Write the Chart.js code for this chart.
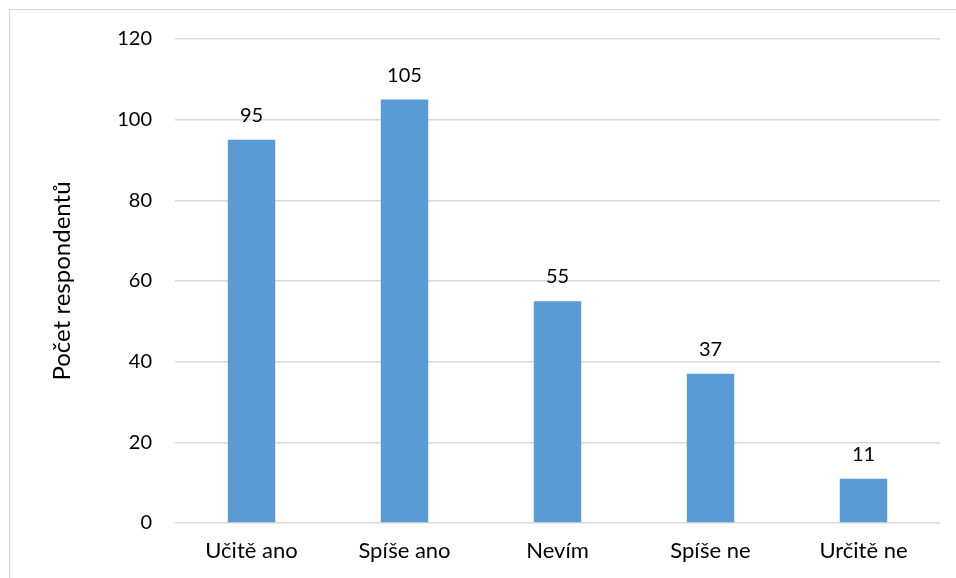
<!DOCTYPE html>
<html>
<head>
<meta charset="utf-8">
<script src="https://cdn.jsdelivr.net/npm/chart.js@4"></script>
<style>
  html, body { margin: 0; padding: 0; background: #fff; overflow: hidden; }
  #frame { position: absolute; left: 9px; top: 9px; width: 1000px; height: 1000px;
           border-left: 1.5px solid #d9d9d9; border-top: 1.5px solid #d9d9d9; }
  #wrap { position: absolute; left: 0; top: 0; width: 956px; height: 578px; }
</style>
</head>
<body>
<div id="frame"></div>
<div id="wrap"><canvas id="chart" width="956" height="578"></canvas></div>
<script>
// data
var categories = ["Učitě ano", "Spíše ano", "Nevím", "Spíše ne", "Určitě ne"];
var counts = [95, 105, 55, 37, 11];
var yTicks = [0, 20, 40, 60, 80, 100, 120];
var yTitle = "Počet respondentů";

var font = "Lato, 'Open Sans', sans-serif";

// popisky nad sloupci
var labelPlugin = {
    id: "barLabels",
    afterDatasetsDraw: function (chart) {
        var ctx = chart.ctx;
        var meta = chart.getDatasetMeta(0);
        ctx.save();
        ctx.font = "20px " + font;
        ctx.fillStyle = "#000";
        ctx.textAlign = "center";
        ctx.textBaseline = "alphabetic";
        meta.data.forEach(function (bar, i) {
            ctx.fillText(String(counts[i]), bar.x, bar.y - 18);
        });
        ctx.restore();
    }
};

var ctx = document.getElementById("chart").getContext("2d");
var chart = new Chart(ctx, {
    type: "bar",
    data: {
        labels: categories,
        datasets: [
            {
                data: counts,
                backgroundColor: "#5B9BD5",
                categoryPercentage: 1,
                barPercentage: 0.31
            }
        ]
    },
    options: {
        responsive: false,
        animation: false,
        layout: { padding: { left: 48, right: 16, top: 39, bottom: 0 } },
        plugins: { legend: { display: false }, tooltip: { enabled: false } },
        scales: {
            x: {
                grid: { display: false, drawTicks: false },
                border: { display: false },
                ticks: { color: "#000", font: { family: font, size: 22 }, padding: 15 },
                afterFit: function (s) { s.height = 55; }
            },
            y: {
                min: 0,
                max: 120,
                afterBuildTicks: function (s) {
                    s.ticks = yTicks.map(function (v) { return { value: v }; });
                },
                grid: { color: "#d9d9d9", lineWidth: 1.5, drawTicks: false },
                border: { display: false },
                ticks: { color: "#000", font: { family: font, size: 20 }, padding: 23 },
                title: {
                    display: true,
                    text: yTitle,
                    color: "#000",
                    font: { family: font, size: 24 },
                    padding: { top: 0, bottom: 0 }
                },
                afterFit: function (s) { s.width = 127; }
            }
        }
    },
    plugins: [labelPlugin]
});
</script>
</body>
</html>
